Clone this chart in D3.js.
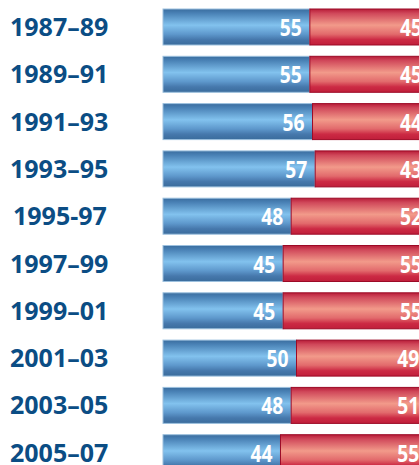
<!DOCTYPE html>
<html><head><meta charset="utf-8">
<script src="https://cdn.jsdelivr.net/npm/d3@7"></script>
<style>body{margin:0;background:#fff;overflow:hidden}</style>
</head><body>
<svg id="c" width="419" height="465"></svg>
<script>
const categories = ["1987–89","1989–91","1991–93","1993–95","1995-97","1997–99","1999–01","2001–03","2003–05","2005–07"];
const blueValues = [55,55,56,57,48,45,45,50,48,44];
const redValues  = [45,45,44,43,52,55,55,49,51,55];

const svg = d3.select("#c");
const x = d3.scaleLinear().domain([0,100]).range([163,430]);
const y = d3.scaleBand().domain(categories).range([9,470.7]).paddingInner(0.239).paddingOuter(0);

const defs = svg.append("defs");
function grad(id, stops){
  const g = defs.append("linearGradient").attr("id",id).attr("x1",0).attr("x2",0).attr("y1",0).attr("y2",1);
  stops.forEach(s=>g.append("stop").attr("offset",s[0]).attr("stop-color",s[1]));
}
grad("gb",[[0,"#3a6d9f"],[0.12,"#4a82b6"],[0.45,"#82c2ee"],[0.7,"#5e98cc"],[0.85,"#4678ac"],[1,"#3a6c9c"]]);
grad("gr",[[0,"#b81c38"],[0.12,"#d0485a"],[0.45,"#f29a8a"],[0.7,"#e26a6c"],[0.85,"#cc2a44"],[1,"#c01e3a"]]);

const rows = categories.map((c,i)=>({c, b:blueValues[i], r:redValues[i]}));

const g = svg.append("g");
g.selectAll("rect.b").data(rows).join("rect").attr("class","b")
  .attr("x",x(0)).attr("y",d=>y(d.c)).attr("width",d=>x(d.b)-x(0)).attr("height",y.bandwidth())
  .attr("fill","url(#gb)").attr("stroke","#9cc0de").attr("stroke-width",1);
g.selectAll("rect.r").data(rows).join("rect").attr("class","r")
  .attr("x",d=>x(d.b)).attr("y",d=>y(d.c)).attr("width",d=>x(d.b+d.r)-x(d.b)).attr("height",y.bandwidth())
  .attr("fill","url(#gr)").attr("stroke","#9c0a26").attr("stroke-width",1);

const vfont = "'Open Sans',sans-serif";
function valText(sel, xf, vf){
  sel.attr("x",xf).attr("y",d=>y(d.c)+y.bandwidth()/2+9)
    .attr("text-anchor","end").attr("fill","#fff").attr("font-family",vfont).attr("font-weight","bold").attr("font-size",24)
    .attr("textLength",22).attr("lengthAdjust","spacingAndGlyphs")
    .text(vf);
}
valText(g.selectAll("text.bv").data(rows).join("text").attr("class","bv"), d=>x(d.b)-8, d=>d.b);
valText(g.selectAll("text.rv").data(rows).join("text").attr("class","rv"), d=>x(d.b+d.r)-8, d=>d.r);

g.selectAll("text.cat").data(rows).join("text").attr("class","cat")
  .attr("x",d=>d.c.includes("-")?13:10).attr("y",d=>y(d.c)+y.bandwidth()/2+9)
  .attr("fill","#0b4d84").attr("font-family","'Open Sans',sans-serif").attr("font-weight","bold").attr("font-size",25)
  .text(d=>d.c);
</script>
</body></html>
